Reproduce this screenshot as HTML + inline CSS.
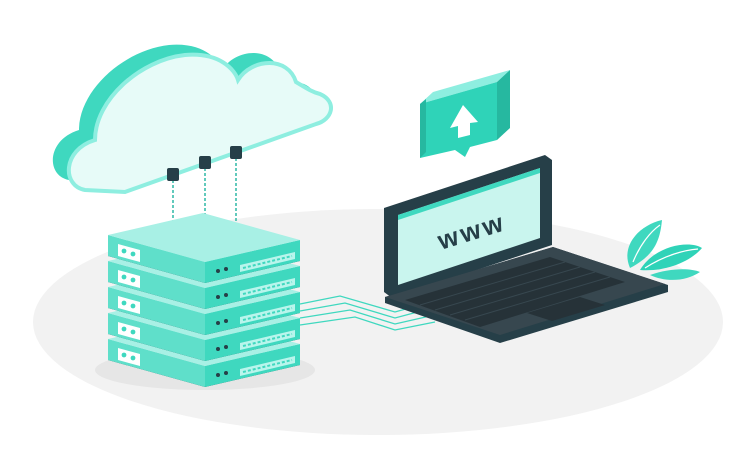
<!DOCTYPE html>
<html><head><meta charset="utf-8"><style>html,body{margin:0;padding:0;background:#fff}svg{display:block}</style></head>
<body>
<svg width="750" height="460" viewBox="0 0 750 460" xmlns="http://www.w3.org/2000/svg">
<ellipse cx="378" cy="322" rx="345" ry="113" fill="#f2f2f2"/>
<!-- cloud -->
<g transform="translate(-16,-10)"><path d="M85 190 C62 186 62 150 95 140 C95 100 140 60 185 55 C220 52 235 70 238 80 C252 58 288 56 296 82 C306 88 312 92 320 94 C338 102 332 120 316 124 L125 192 Z" fill="#3fd8bf"/></g>
<path d="M70 175 L86 188 L125 192 L110 180 Z" fill="#3fd8bf"/>
<path d="M85 190 C62 186 62 150 95 140 C95 100 140 60 185 55 C220 52 235 70 238 80 C252 58 288 56 296 82 C306 88 312 92 320 94 C338 102 332 120 316 124 L125 192 Z" fill="#e7fbf8" stroke="#8eeee0" stroke-width="4"/>
<!-- dashed wires -->
<g stroke="#2fb9a5" stroke-width="1.5" stroke-dasharray="3,2">
<line x1="173" y1="180" x2="173" y2="245"/><line x1="205" y1="168" x2="205" y2="236"/><line x1="236" y1="158" x2="236" y2="226"/></g>
<g fill="#263f48"><rect x="167" y="168" width="12" height="13" rx="2"/><rect x="199" y="156" width="12" height="13" rx="2"/><rect x="230" y="146" width="12" height="13" rx="2"/></g>
<!-- server -->
<ellipse cx="205" cy="370" rx="110" ry="20" fill="#e6e6e6"/>
<g id="s">
</g>
<defs>
<g id="slab">
<polygon points="108,235 205,262 205,283 108,256" fill="#5fdfca"/>
<polygon points="205,262 300,240 300,261 205,283" fill="#3fd8bf"/>
<polygon points="108,235 203,213 300,240 205,262" fill="#a8f0e5"/>
<polygon points="118,244 140,250 140,262 118,256" fill="#fff"/>
<circle cx="124" cy="251" r="2.4" fill="#3fd8bf"/><circle cx="133" cy="254" r="2.4" fill="#3fd8bf"/>
<circle cx="218" cy="271" r="2" fill="#263f48"/><circle cx="226" cy="269" r="2" fill="#263f48"/>
<polygon points="240,265 295,252 295,259 240,272" fill="#b9f5ec"/>
<line x1="243" y1="268" x2="292" y2="256" stroke="#3fd8bf" stroke-width="2" stroke-dasharray="3,2"/>
</g></defs>
<g>
<polygon points="108,360 205,387 300,365 300,350 205,372 108,345" fill="#263f48"/>
<use href="#slab" y="104"/>
<polygon points="108,334 205,361 300,339 300,324 205,346 108,319" fill="#263f48"/>
<use href="#slab" y="78"/>
<polygon points="108,308 205,335 300,313 300,298 205,320 108,293" fill="#263f48"/>
<use href="#slab" y="52"/>
<polygon points="108,282 205,309 300,287 300,272 205,294 108,267" fill="#263f48"/>
<use href="#slab" y="26"/>
<polygon points="108,256 205,283 300,261 300,246 205,268 108,241" fill="#263f48"/>
<use href="#slab" y="0"/>
</g>
<!-- network wires -->
<g fill="none" stroke="#3fd8bf" stroke-width="1.3">
<polyline points="300,304 340,296 395,312 420,305"/>
<polyline points="300,311 345,303 395,318 425,310"/>
<polyline points="300,318 350,310 395,324 430,316"/>
<polyline points="300,325 355,317 395,330 435,322"/>
</g>
<!-- upload bubble -->
<polygon points="420,104 433,92 510,70 497,82" fill="#8eeee0"/>
<polygon points="497,82 510,70 510,128 497,140" fill="#26b8a0"/>
<polygon points="420,104 497,82 497,140 470,147 465,157 455,150 420,158" fill="#2fd3b8"/>
<polygon points="420,104 426,99 426,152 420,158" fill="#26b8a0"/>
<polygon points="463,105 478,122 470,123 470,135 458,138 458,126 450,128" fill="#fff"/>
<!-- laptop screen -->
<polygon points="384,208 545,155 552,160 552,245 392,298 384,292" fill="#263f48"/>
<polygon points="398,215 540,168 540,238 398,285" fill="#c9f5ee"/>
<polygon points="398,215 540,168 540,173 398,220" fill="#3fd8bf"/>
<text x="472" y="240" transform="rotate(-17 472 232)" font-family="Liberation Sans, sans-serif" font-weight="bold" font-size="26" fill="#263f48" text-anchor="middle" letter-spacing="3">www</text>
<!-- base -->
<polygon points="385,297 553,247 668,285 668,292 500,343 385,303" fill="#263f48"/>
<polygon points="385,297 553,247 665,284 500,335" fill="#37474f"/>
<polygon points="405,300 550,257 625,282 480,327" fill="#263238"/>
<g stroke="#37474f" stroke-width="1">
<line x1="420" y1="305" x2="565" y2="262"/><line x1="435" y1="310" x2="580" y2="267"/><line x1="450" y1="315" x2="595" y2="272"/><line x1="465" y1="320" x2="610" y2="277"/>
</g>
<polygon points="527,313 580,297 605,305 552,321" fill="#263238"/>
<!-- plant -->
<path d="M630 268 C620 245 640 225 662 220 C660 240 655 255 630 268 Z" fill="#3fd8bf"/>
<path d="M640 270 C655 245 690 240 702 248 C690 262 665 272 640 270 Z" fill="#2fd3b8"/>
<path d="M650 275 C670 268 690 268 700 272 C685 282 665 282 650 275 Z" fill="#3fd8bf"/>
<path d="M633 262 C640 245 650 232 660 225 M645 268 C665 255 685 250 698 249" stroke="#fff" stroke-width="1.2" fill="none"/>
</svg>
</body></html>
